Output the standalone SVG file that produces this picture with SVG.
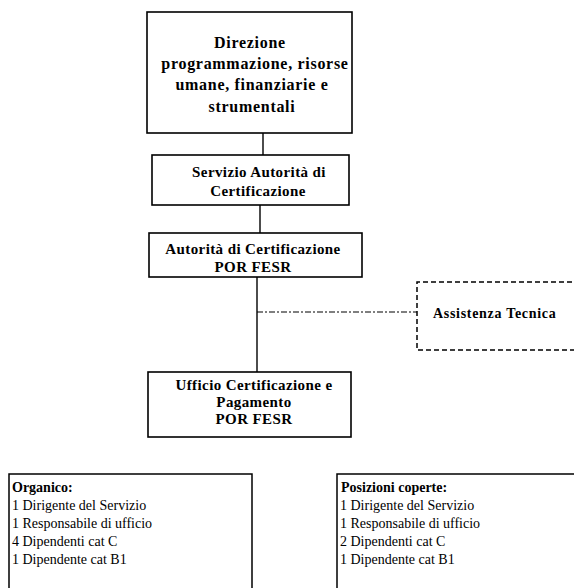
<svg xmlns="http://www.w3.org/2000/svg" width="574" height="588" viewBox="0 0 574 588">
<style>
.box{fill:#fff;stroke:#000;stroke-width:1.6}
.open{fill:none;stroke:#000;stroke-width:1.5}
.dash{fill:none;stroke:#000;stroke-width:1.5;stroke-dasharray:5 3}
.line{fill:none;stroke:#000;stroke-width:1.4}
.dashdot{fill:none;stroke:#000;stroke-width:1.2;stroke-dasharray:6 2 2 2}
text{font-family:"Liberation Serif","Times New Roman",serif;fill:#000}
.t1{font-size:16px;font-weight:bold;letter-spacing:0.7px;text-anchor:middle}
.t2{font-size:15px;font-weight:bold;letter-spacing:0.4px;text-anchor:middle}
.t3{font-size:14px;font-weight:bold;letter-spacing:0.7px}
.l{font-size:14px}
.lb{font-size:14px;font-weight:bold}
</style>
<g id="connectors">
<line class="line" x1="263" y1="133" x2="263" y2="155"/>
<line class="line" x1="260" y1="205" x2="260" y2="233"/>
<line class="line" x1="257" y1="277" x2="257" y2="372"/>
<line class="dashdot" x1="257" y1="312" x2="417" y2="312"/>
</g>
<g id="direzione">
<rect class="box" x="147" y="12" width="205" height="121"/>
<text class="t1" x="250" y="48">Direzione</text>
<text class="t1" x="255" y="69">programmazione, risorse</text>
<text class="t1" x="252" y="90">umane, finanziarie e</text>
<text class="t1" x="252" y="112">strumentali</text>
</g>
<g id="servizio">
<rect class="box" x="152" y="155" width="197" height="50"/>
<text class="t2" x="259" y="177">Servizio Autorità di</text>
<text class="t2" x="258" y="196">Certificazione</text>
</g>
<g id="autorita">
<rect class="box" x="149" y="233" width="213" height="44"/>
<text class="t2" x="253" y="254">Autorità di Certificazione</text>
<text class="t2" x="253" y="272">POR FESR</text>
</g>
<g id="assistenza">
<path class="dash" d="M580,282 H417 V350 H580"/>
<text class="t3" x="433" y="318">Assistenza Tecnica</text>
</g>
<g id="ufficio">
<rect class="box" x="148" y="372" width="203" height="65"/>
<text class="t2" x="254" y="390">Ufficio Certificazione e</text>
<text class="t2" x="254" y="407">Pagamento</text>
<text class="t2" x="254" y="424">POR FESR</text>
</g>
<g id="organico">
<path class="open" d="M9,600 V474 H252 V600"/>
<text class="lb" x="12" y="492">Organico:</text>
<text class="l" x="12" y="510">1 Dirigente del Servizio</text>
<text class="l" x="12" y="528">1 Responsabile di ufficio</text>
<text class="l" x="12" y="546">4 Dipendenti cat C</text>
<text class="l" x="12" y="564">1 Dipendente cat B1</text>
</g>
<g id="posizioni">
<path class="open" d="M337,600 V474 H580"/>
<text class="lb" x="341" y="492">Posizioni coperte:</text>
<text class="l" x="340" y="510">1 Dirigente del Servizio</text>
<text class="l" x="340" y="528">1 Responsabile di ufficio</text>
<text class="l" x="340" y="546">2 Dipendenti cat C</text>
<text class="l" x="340" y="564">1 Dipendente cat B1</text>
</g>
</svg>
